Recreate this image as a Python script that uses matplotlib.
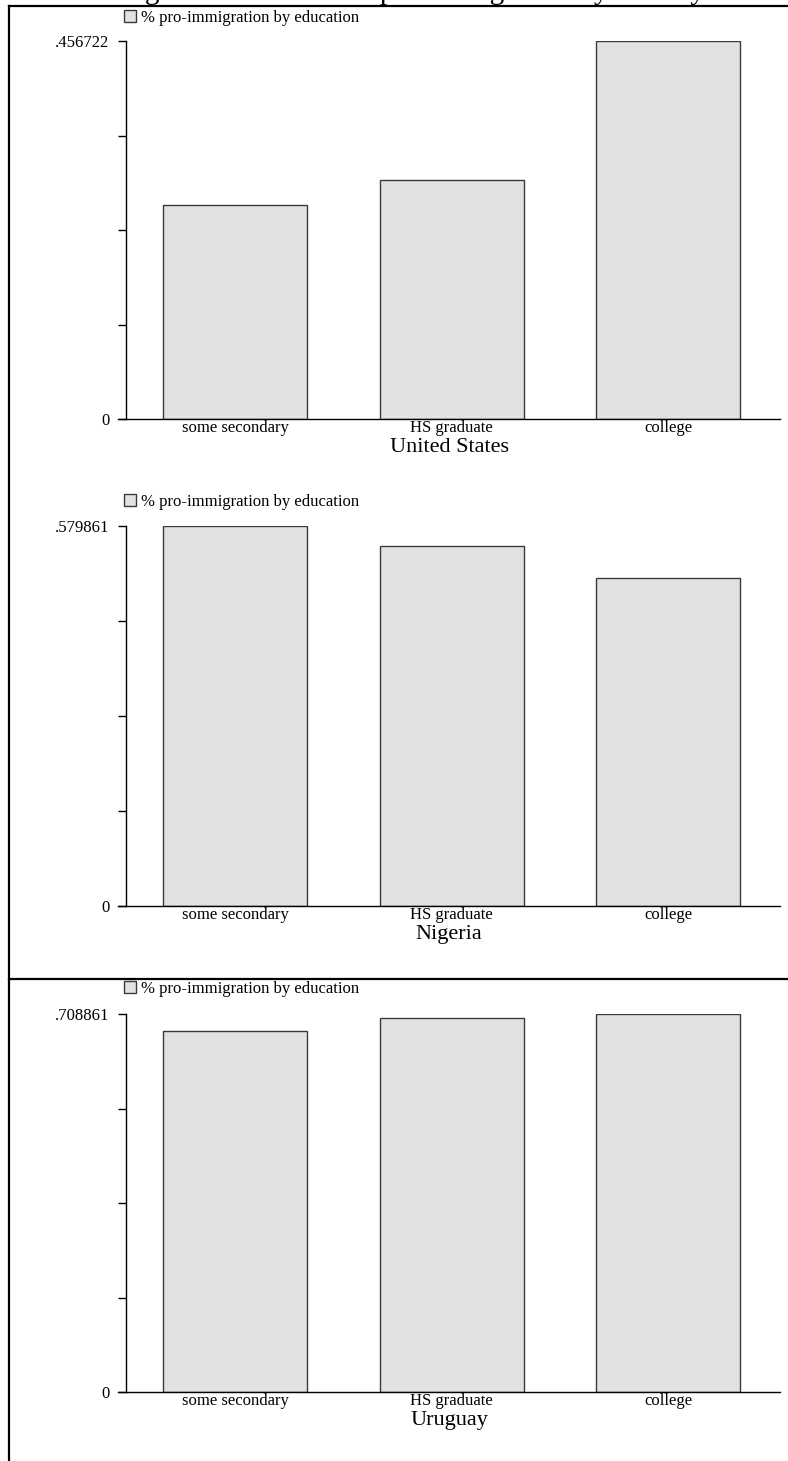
import numpy as np
import matplotlib
matplotlib.use("Agg")
import matplotlib.pyplot as plt
from matplotlib.lines import Line2D

plt.rcParams['font.family'] = ['Liberation Serif', 'DejaVu Serif']

categories = ['some secondary', 'HS graduate', 'college']
countries = ['United States', 'Nigeria', 'Uruguay']
us_vals = [0.2586, 0.2888, 0.456722]
ng_vals = [0.579861, 0.5494, 0.5005]
uy_vals = [0.6770, 0.7014, 0.708861]
top_labels = ['.456722', '.579861', '.708861']
legend_label = '% pro-immigration by education'

W, H = 788, 1461
fig = plt.figure(figsize=(W / 100, H / 100), dpi=100)

# pixel boxes: (top of y axis, zero line, legend y)
panels = [(41, 419, 18), (526, 906, 502), (1014, 1392, 989)]
values = [us_vals, ng_vals, uy_vals]

x = np.arange(len(categories))
left_px, right_px = 118, 780
xmin, xmax = -0.540, 2.515
for (ytop, yzero, yleg), vals, country, toplab in zip(panels, values, countries, top_labels):
    ax = fig.add_axes([left_px / W, 1 - yzero / H, (right_px - left_px) / W, (yzero - ytop) / H])
    bars = ax.bar(x, vals, width=0.665, color='#e2e2e2', edgecolor='#3a3a3a', linewidth=1.0,
                  label=legend_label)
    vmax = max(vals)
    ax.set_ylim(0, vmax)
    ax.set_xlim(xmin, xmax)
    ax.spines['top'].set_visible(False)
    ax.spines['right'].set_visible(False)
    ax.spines['left'].set_position(('data', -0.503))
    ax.spines['left'].set_bounds(0, vmax)
    ax.spines['left'].set_linewidth(1.0)
    ax.spines['bottom'].set_linewidth(1.0)
    ticks = np.linspace(0, vmax, 5)
    ax.set_yticks(ticks)
    ax.set_yticklabels(['0', '', '', '', toplab], fontsize=12)
    ax.tick_params(axis='y', length=6, width=1.0, pad=6)
    ax.set_xticks(x)
    ax.set_xticklabels(categories, fontsize=12)
    ax.tick_params(axis='x', length=0, pad=1)
    ax.set_xlabel(country, fontsize=16, labelpad=1)
    ax.patch.set_visible(False)
    ax.legend(handles=[bars], loc='center left', bbox_to_anchor=(124 / W, 1 - yleg / H),
              bbox_transform=fig.transFigure, frameon=False, fontsize=12,
              handlelength=0.7, handleheight=0.7, handletextpad=0.3, borderpad=0, borderaxespad=0)

# outer frame lines
fig.add_artist(Line2D([9 / W, 1], [1 - 6 / H, 1 - 6 / H], color='black', lw=1.6))
fig.add_artist(Line2D([9 / W, 1], [1 - 979 / H, 1 - 979 / H], color='black', lw=1.6))
fig.add_artist(Line2D([9 / W, 9 / W], [0, 1 - 6 / H], color='black', lw=1.6))

# page title, cut off at the top edge as in the source page
fig.text(0.5, 1 + 1 / H, 'Immigration attitudes: % pro-immigration by country', ha='center',
         va='baseline', fontsize=21)

fig.savefig('out.png', dpi=100)
